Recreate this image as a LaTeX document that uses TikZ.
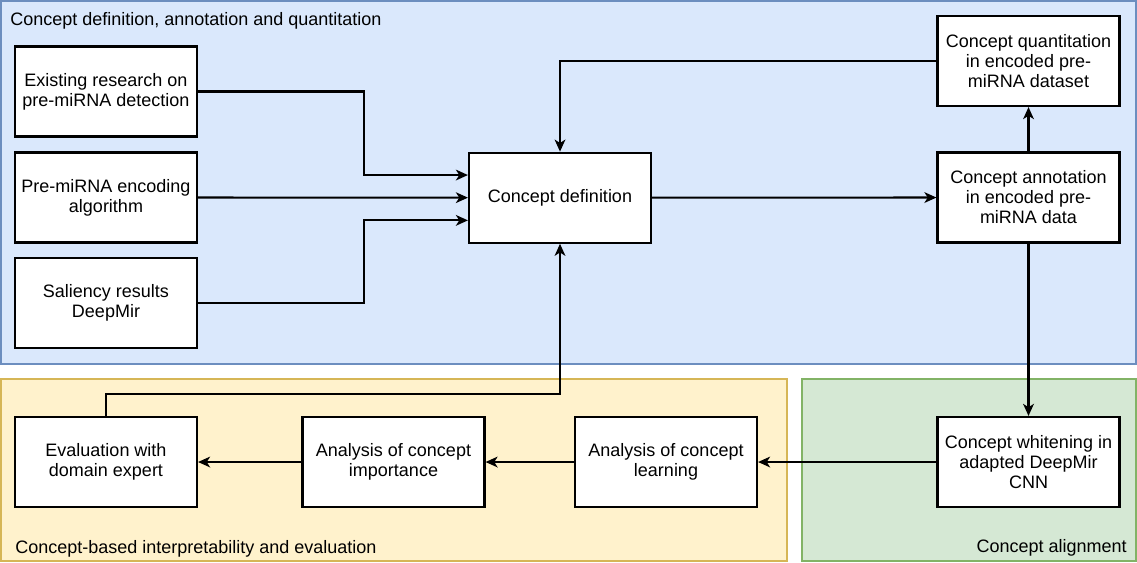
\documentclass[tikz,border=0pt]{standalone}
\usepackage{fontspec}
\setmainfont{Liberation Sans}
\usetikzlibrary{arrows.meta}
\definecolor{bluefill}{HTML}{DAE8FC}
\definecolor{blueline}{HTML}{6C8EBF}
\definecolor{yellowfill}{HTML}{FFF2CC}
\definecolor{yellowline}{HTML}{D6B656}
\definecolor{greenfill}{HTML}{D5E8D4}
\definecolor{greenline}{HTML}{82B366}
\begin{document}
\begin{tikzpicture}[x=0.75pt,y=-0.75pt,
	font=\fontsize{13.5}{15}\selectfont,
	box/.style={draw,fill=white,line width=1.6pt,align=center,inner sep=0pt,
		minimum width=136.5pt,minimum height=67.5pt},
	flow/.style={line width=1.6pt,-{Stealth[length=9pt,width=8pt,inset=2.5pt]}},
	panel/.style={line width=1.1pt},
	panellabel/.style={inner sep=0pt}]
		\useasboundingbox (0,0) rectangle (1137,562);
		% Các vùng nền
		\draw[panel,fill=bluefill,draw=blueline] (0.8,0.8) rectangle (1136.2,364);
		\draw[panel,fill=yellowfill,draw=yellowline] (0.8,379) rectangle (787,561.2);
		\draw[panel,fill=greenfill,draw=greenline] (802,379) rectangle (1136.2,561.2);
			\node[panellabel,anchor=base west] (toplabel) at (10,25) {Concept definition, annotation and quantitation};
			\node[panellabel,anchor=base west] (evallabel) at (15,553) {Concept-based interpretability and evaluation};
			\node[panellabel,anchor=base east] (alignlabel) at (1127,552) {Concept alignment};
		% Các khối
		\node[box] (exist) at (106,91.5) {Existing research on\\pre-miRNA detection};
		\node[box] (encode) at (106,197.5) {Pre-miRNA encoding\\algorithm};
		\node[box] (saliency) at (106,303) {Saliency results\\DeepMir};
		\node[box] (conceptdef) at (560,197.7) {Concept definition};
		\node[box] (quant) at (1028.5,61) {Concept quantitation\\in encoded pre-\\miRNA dataset};
		\node[box] (annot) at (1028.5,197.5) {Concept annotation\\in encoded pre-\\miRNA data};
		\node[box] (whiten) at (1028.5,462) {Concept whitening in\\adapted DeepMir\\CNN};
		\node[box] (learn) at (666,462) {Analysis of concept\\learning};
		\node[box] (importance) at (393.5,462) {Analysis of concept\\importance};
		\node[box] (evalexp) at (106,462) {Evaluation with\\domain expert};
		% Các mũi tên
		\draw[flow] (exist.east) -- ++(166,0) |- ([yshift=17pt]conceptdef.west);
		\draw[flow] (encode) -- (conceptdef);
		\draw[flow] (saliency.east) -- ++(166,0) |- ([yshift=-17pt]conceptdef.west);
		\draw[flow] (conceptdef) -- (annot);
		\draw[flow] (annot) -- (quant);
		\draw[flow] (quant.west) -| (conceptdef.north);
		\draw[flow] (annot) -- (whiten);
		\draw[flow] (whiten) -- (learn);
		\draw[flow] (learn) -- (importance);
		\draw[flow] (importance) -- (evalexp);
		\draw[flow] (evalexp.north) -- ++(0,-22) -| (conceptdef.south);
	\end{tikzpicture}
\end{document}
